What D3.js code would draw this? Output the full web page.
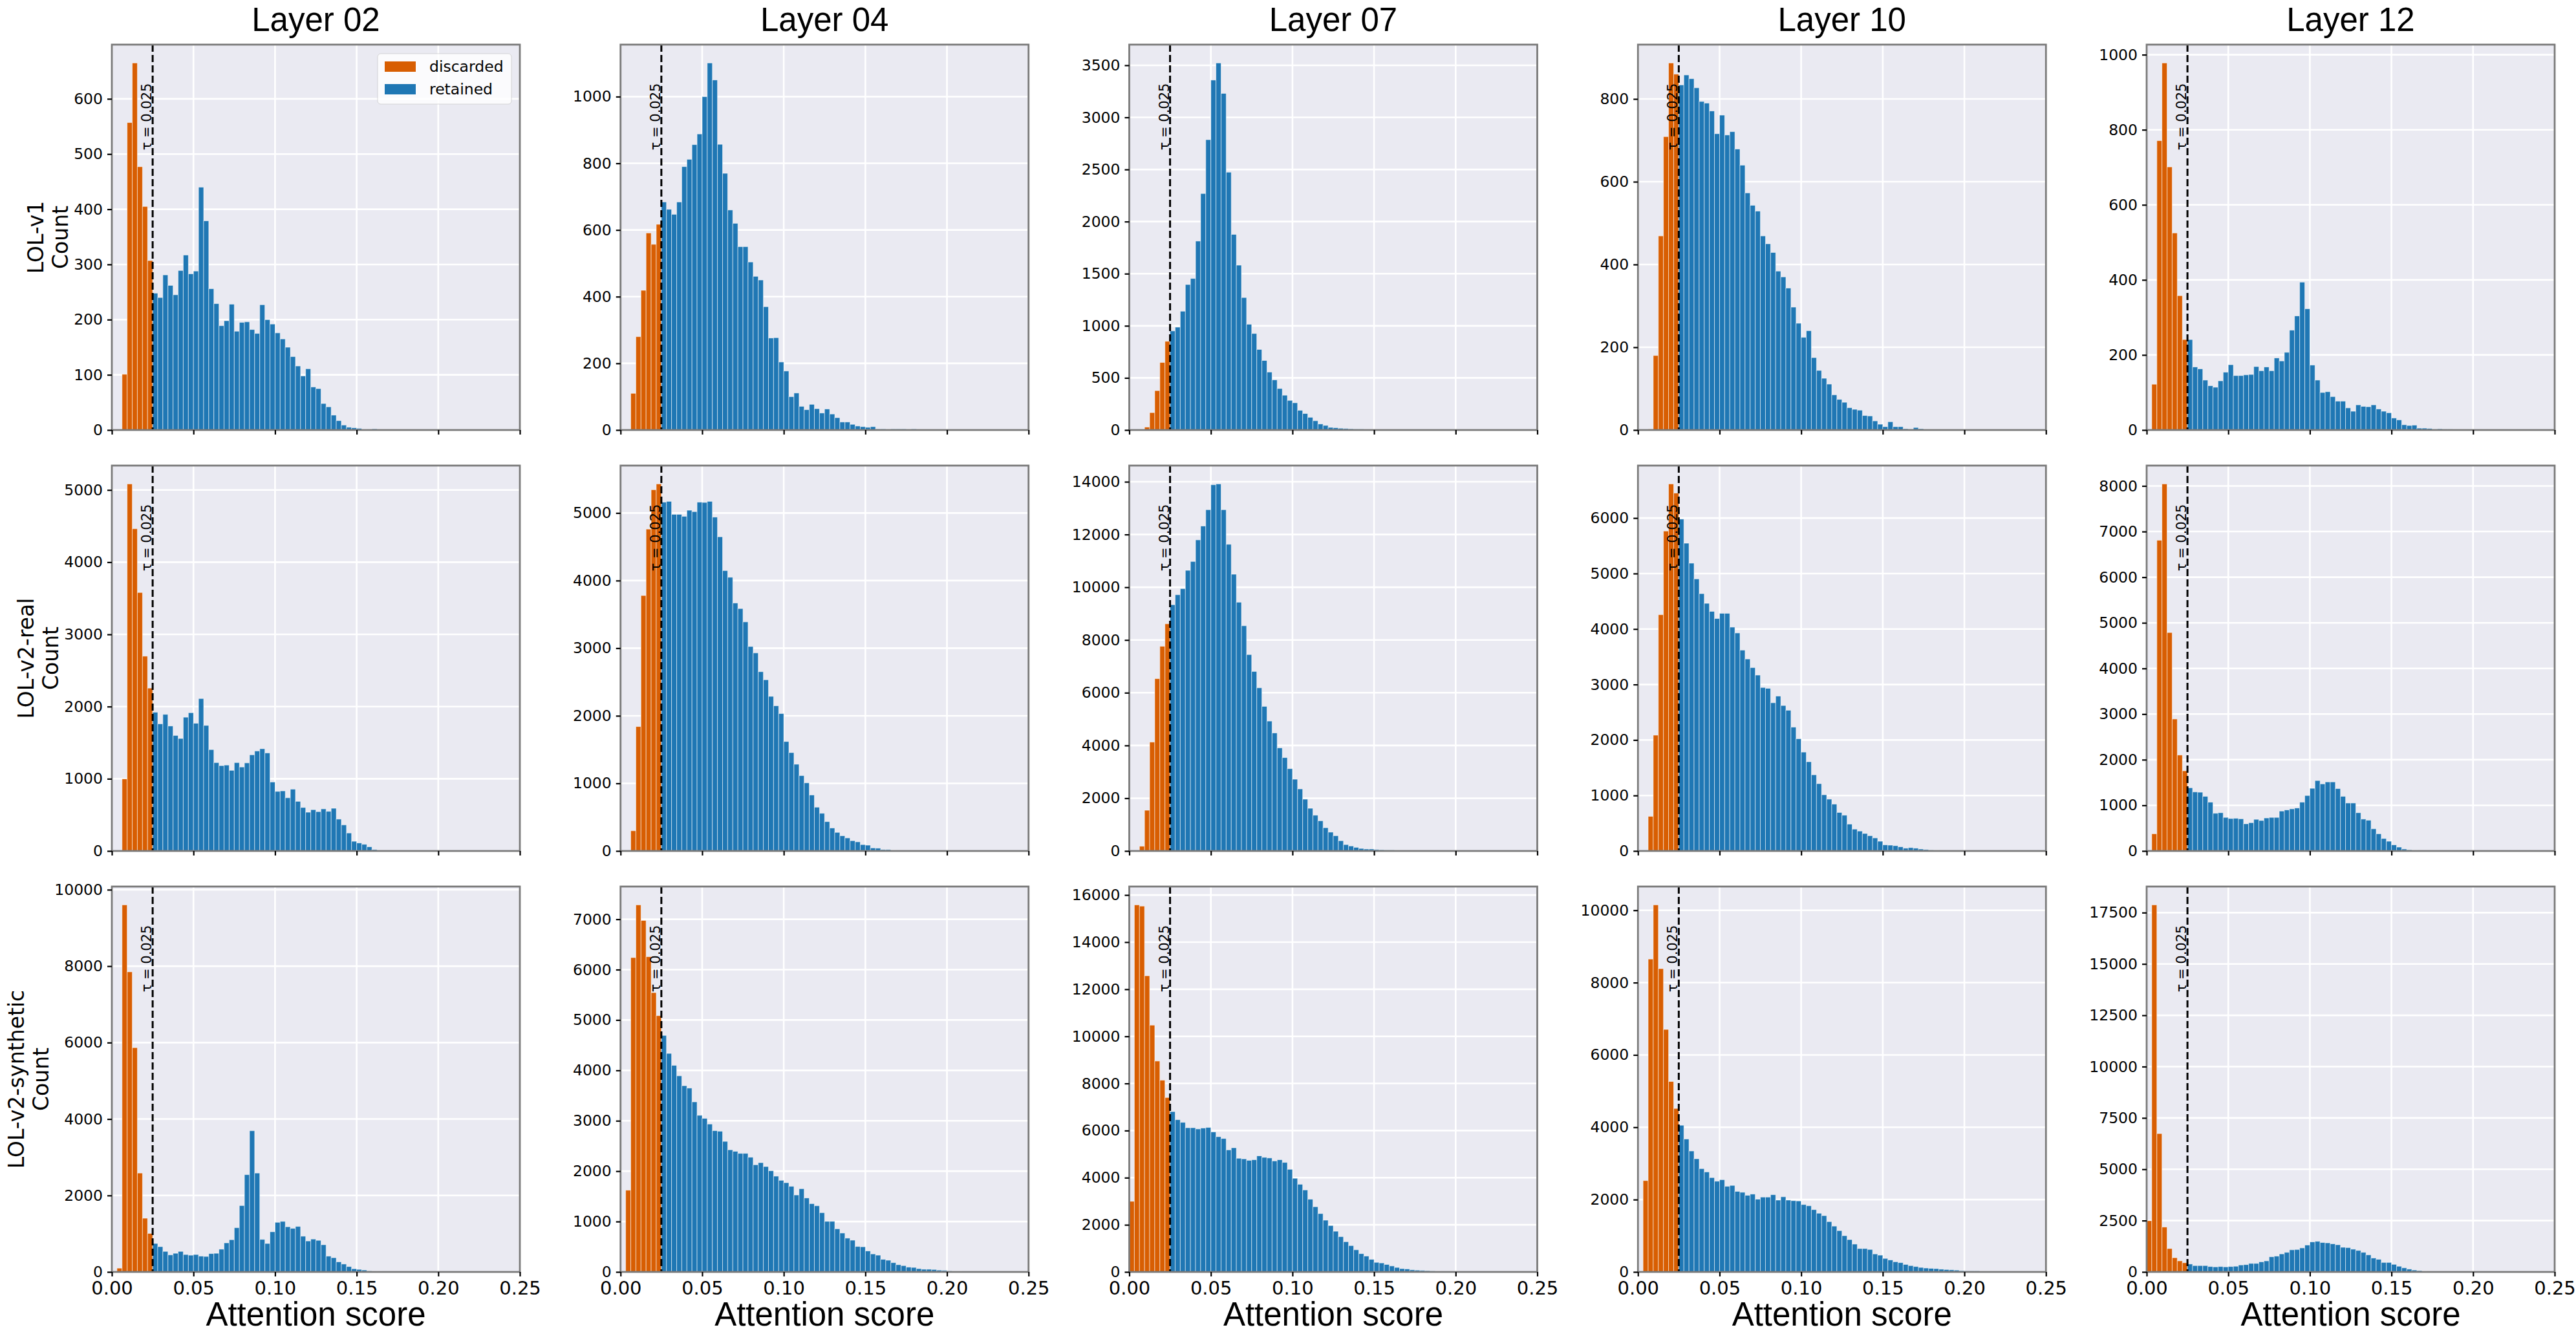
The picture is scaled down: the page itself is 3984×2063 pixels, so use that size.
<!DOCTYPE html>
<html>
<head>
<meta charset="utf-8">
<script src="https://cdnjs.cloudflare.com/ajax/libs/d3/7.8.5/d3.min.js"></script>
<style>
	body { margin: 0; background: #ffffff; }
	svg { display: block; }
</style>
</head>
<body>
<div id="chart"></div>
<script>
var datasets = ['LOL-v1', 'LOL-v2-real', 'LOL-v2-synthetic'];
var layers = ['Layer 02', 'Layer 04', 'Layer 07', 'Layer 10', 'Layer 12'];
var tau = 0.025;
var binWidth = 0.003125; // 80 bins over [0, 0.25]
var xTicks = [0, 0.05, 0.10, 0.15, 0.20, 0.25];
var yTickSteps = [
	[100, 200, 500, 200, 200],
	[1000, 1000, 2000, 1000, 1000],
	[2000, 1000, 2000, 2000, 2500]
];

// bin counts, first value is the bin starting at 0
var v1L02 = [0,0,101,557,665,477,405,307,248,240,281,262,245,289,317,283,288,440,379,256,229,189,198,228,179,195,196,182,175,227,200,192,176,165,150,133,116,98,111,78,75,48,42,27,17,9,5,4,3,1,0,2];
var v1L04 = [0,0,110,280,419,591,557,617,684,662,647,684,790,812,856,888,1000,1101,1050,857,770,660,620,550,550,504,461,450,370,276,277,204,177,100,111,71,61,77,64,51,63,48,37,24,24,17,12,10,8,10,3,3,1,3,3,3,1,3,1,2];
var v1L07 = [0,0,0,28,167,378,648,851,951,987,1140,1396,1454,1813,2269,2786,3358,3522,3230,2474,1877,1582,1271,1015,926,773,667,556,481,398,334,284,261,189,158,122,89,58,44,25,22,17,14,11,8,8,5,3,3];
var v1L10 = [0,0,2,180,469,709,887,860,834,858,849,827,794,790,771,716,761,713,721,679,640,573,543,529,469,450,429,384,370,343,297,258,224,240,175,144,125,111,85,74,67,54,50,48,35,34,22,14,8,20,8,8,3,2,6,3,1];
var v1L12 = [0,122,771,978,701,525,358,241,241,168,163,133,118,114,131,154,174,145,145,147,148,169,158,168,158,192,184,207,266,304,394,323,173,133,100,102,89,77,77,59,50,67,63,62,67,56,50,46,32,27,14,12,13,5,5,4,2,3,2,2];

var v2rL02 = [0,0,998,5084,4463,3580,2698,2256,1922,1761,1892,1731,1600,1558,1853,1915,1769,2111,1739,1404,1224,1182,1190,1117,1224,1163,1220,1332,1385,1416,1358,955,825,832,737,856,687,602,537,572,545,583,549,591,441,361,249,134,111,92,58,19,4];
var v2rL04 = [0,0,299,1840,3779,4762,5344,5430,5160,5172,4980,4980,4951,5041,5020,5160,5156,5172,4939,4648,4148,4049,3668,3586,3389,3025,2930,2652,2533,2287,2148,2033,1619,1455,1283,1115,1008,828,648,557,434,340,275,225,193,152,135,94,86,45,41,20,20,8,4];
var v2rL07 = [0,0,179,1544,4128,6534,7763,8613,9338,9716,9947,10641,10977,11796,12321,12941,13887,13918,12941,11628,10494,9433,8540,7447,6807,6187,5483,4926,4475,3908,3540,3120,2721,2353,1964,1618,1355,1145,882,714,578,389,242,189,137,95,74,74,53,42,32,32,21,11,11];
var v2rL10 = [0,0,624,2087,4258,5766,6615,6450,5981,5547,5187,4903,4638,4463,4318,4189,4283,4283,4034,3929,3620,3460,3305,3170,2946,2931,2671,2791,2621,2536,2232,2022,1782,1608,1373,1213,1013,934,844,694,644,484,394,359,315,275,235,175,110,105,95,75,50,60,50,35,25,15,10,5,5];
var v2rL12 = [0,377,6810,8044,4787,2892,2102,1756,1385,1294,1288,1197,1069,826,838,735,711,717,705,595,620,693,668,723,735,735,875,899,923,942,1069,1215,1373,1543,1470,1513,1513,1367,1197,1051,1051,838,699,674,486,377,273,213,134,85,43,24,12,6];

var v2sL02 = [0,99,9603,7851,5868,2587,1405,1008,744,661,537,446,488,537,455,438,455,413,405,479,488,595,760,843,1157,1736,2545,3694,2587,851,744,1050,1298,1322,1182,1140,1190,934,810,860,826,711,413,372,264,207,140,83,66,50,25,17,17,8];
var v2sL04 = [0,1622,6239,7285,6976,6257,5544,5086,4694,4337,4100,3892,3696,3649,3375,3108,3048,2935,2804,2793,2591,2424,2394,2353,2353,2276,2127,2169,2092,2008,1901,1818,1771,1699,1527,1652,1468,1355,1313,1176,1004,1004,856,772,671,630,505,499,416,357,333,250,232,184,143,125,95,89,65,53,53,48,36,30,18,12,12,6,6];
var v2sL07 = [2997,15581,15530,12571,10476,8952,8140,7403,6806,6463,6349,6121,6121,6070,6108,6133,5943,5740,5663,5181,5270,4825,4800,4737,4762,4927,4863,4838,4711,4762,4648,4356,3975,3721,3479,3086,2768,2476,2197,1968,1727,1498,1283,1117,940,775,673,533,406,381,317,254,190,140,127,89,76,63,51,38,25,13];
var v2sL10 = [0,2525,8651,10149,8386,6705,5265,4520,4056,3675,3344,3129,2856,2765,2608,2508,2550,2368,2392,2227,2202,2119,2152,2012,2070,2070,2136,1987,2078,1987,1970,1962,1863,1829,1722,1623,1556,1391,1267,1142,1002,894,770,646,646,621,497,464,373,331,281,257,207,174,149,124,108,99,91,75,66,58,50,33,25,25,25,17,17,8,8];
var v2sL12 = [2492,17877,6738,2185,1138,692,538,446,385,308,308,308,262,246,262,246,262,277,338,354,415,415,492,538,738,769,877,954,1077,1092,1169,1308,1462,1492,1431,1415,1369,1323,1200,1185,1108,1046,954,831,677,615,462,462,369,277,200,138,92,62,31,15];

var counts = [
	[v1L02, v1L04, v1L07, v1L10, v1L12],
	[v2rL02, v2rL04, v2rL07, v2rL10, v2rL12],
	[v2sL02, v2sL04, v2sL07, v2sL10, v2sL12]
];

var HistGrid = (function() {
	var HistGrid = function(container, options) {
		this.container = d3.select(container);
		this.options = Object.assign({}, HistGrid.defaultOptions, options);
		this.initSVG();
		this.initPanels();
	}

	HistGrid.defaultOptions = {
		width: 3984
	, height: 2063
	, left: 173
	, top: 69
	, panelWidth: 631
	, panelHeight: 596
	, colStep: 786.75
	, rowStep: 651
	, discarded: '#d85e02'
	, retained: '#1f77b4'
	, sans: '"DejaVu Sans", sans-serif'
	, head: '"Liberation Sans", Arial, sans-serif'
	}

	HistGrid.prototype.initSVG = function() {
		this.svg = this.container.append('svg')
			.attr('width', this.options.width)
			.attr('height', this.options.height)
			.attr('viewBox', '0 0 ' + this.options.width + ' ' + this.options.height);

		this.svg.append('rect')
			.attr('width', this.options.width)
			.attr('height', this.options.height)
			.attr('fill', '#ffffff');
	}

	HistGrid.prototype.initPanels = function() {
		for (var r = 0; r < datasets.length; r++) {
			for (var c = 0; c < layers.length; c++) {
				this.drawPanel(r, c);
			}
		}
	}

	HistGrid.prototype.drawPanel = function(r, c) {
		var o = this.options;
		var W = o.panelWidth, H = o.panelHeight;
		var px = o.left + c * o.colStep, py = o.top + r * o.rowStep;
		var data = counts[r][c];

		var bins = data.map(function(n, i) {
			return {x0: i * binWidth, x1: (i + 1) * binWidth, n: n};
		}).filter(function(d) { return d.n > 0; });

		var yMax = d3.max(data) * 1.05;
		var x = d3.scaleLinear().domain([0, 0.25]).range([0, W]);
		var y = d3.scaleLinear().domain([0, yMax]).range([H, 0]);
		var yTicks = d3.range(0, yMax, yTickSteps[r][c]);

		var g = this.svg.append('g')
			.attr('transform', 'translate(' + px + ',' + py + ')');

		// background + grid
		g.append('rect')
			.attr('width', W)
			.attr('height', H)
			.attr('fill', '#eaeaf2');

		g.selectAll('.hgrid').data(yTicks).enter().append('line')
			.attr('x1', 0).attr('x2', W)
			.attr('y1', y).attr('y2', y)
			.attr('stroke', '#ffffff')
			.attr('stroke-width', 2.6);

		g.selectAll('.vgrid').data(xTicks).enter().append('line')
			.attr('x1', x).attr('x2', x)
			.attr('y1', 0).attr('y2', H)
			.attr('stroke', '#ffffff')
			.attr('stroke-width', 2.6);

		// bars
		g.selectAll('.bar').data(bins).enter().append('rect')
			.attr('x', function(d) { return x(d.x0); })
			.attr('width', function(d) { return x(d.x1) - x(d.x0); })
			.attr('y', function(d) { return y(d.n); })
			.attr('height', function(d) { return H - y(d.n); })
			.attr('fill', function(d) { return d.x0 < tau - 1e-9 ? o.discarded : o.retained; })
			.attr('stroke', '#ffffff')
			.attr('stroke-opacity', 0.55)
			.attr('stroke-width', 1);

		// threshold
		g.append('line')
			.attr('x1', x(tau)).attr('x2', x(tau))
			.attr('y1', 0).attr('y2', H)
			.attr('stroke', '#000000')
			.attr('stroke-width', 3)
			.attr('stroke-dasharray', '11,5');

		g.append('text')
			.attr('transform', 'translate(' + (x(tau) - 2) + ',' + (H * 0.1) + ') rotate(-90)')
			.attr('text-anchor', 'end')
			.attr('font-family', o.sans)
			.attr('font-size', 21)
			.text('\u03c4 = 0.025');

		// spines
		g.append('rect')
			.attr('width', W)
			.attr('height', H)
			.attr('fill', 'none')
			.attr('stroke', '#7a7a7a')
			.attr('stroke-width', 2.8);

		// axes
		var yAxis = g.append('g')
			.call(d3.axisLeft(y).tickValues(yTicks).tickFormat(d3.format('d')).tickSize(7).tickPadding(7));
		yAxis.select('.domain').remove();
		yAxis.selectAll('line').attr('stroke', '#000000').attr('stroke-width', 2.2);
		yAxis.selectAll('text')
			.attr('font-family', o.sans)
			.attr('font-size', 23.5)
			.attr('fill', '#000000');

		var xAxis = g.append('g')
			.attr('transform', 'translate(0,' + H + ')')
			.call(d3.axisBottom(x).tickValues(xTicks)
				.tickFormat(r == datasets.length - 1 ? d3.format('.2f') : function() { return ''; })
				.tickSize(7).tickPadding(7));
		xAxis.select('.domain').remove();
		xAxis.selectAll('line').attr('stroke', '#000000').attr('stroke-width', 2.2);
		xAxis.selectAll('text')
			.attr('font-family', o.sans)
			.attr('font-size', 29)
			.attr('fill', '#000000');

		if (r == 0) {
			g.append('text')
				.attr('x', W / 2)
				.attr('y', 48 - py)
				.attr('text-anchor', 'middle')
				.attr('font-family', o.head)
				.attr('font-size', 51)
				.text(layers[c]);
		}

		if (r == datasets.length - 1) {
			g.append('text')
				.attr('x', W / 2)
				.attr('y', o.height - 13 - py)
				.attr('text-anchor', 'middle')
				.attr('font-family', o.head)
				.attr('font-size', 51)
				.text('Attention score');
		}

		if (c == 0) {
			// ylabel sits just left of the widest tick label
			var bb = yAxis.node().getBBox();
			var base = bb.x - 9;
			[datasets[r], 'Count'].forEach(function(line, i) {
				g.append('text')
					.attr('transform', 'translate(' + (base - (1 - i) * 38) + ',' + (H / 2) + ') rotate(-90)')
					.attr('text-anchor', 'middle')
					.attr('font-family', o.sans)
					.attr('font-size', 33)
					.text(line);
			});
		}

		if (r == 0 && c == 0) this.drawLegend(g, W);
	}

	HistGrid.prototype.drawLegend = function(g, W) {
		var o = this.options;
		var lg = g.append('g')
			.attr('transform', 'translate(' + (W - 13 - 207) + ',14)');

		lg.append('rect')
			.attr('width', 207)
			.attr('height', 78)
			.attr('rx', 5)
			.attr('fill', '#ffffff')
			.attr('fill-opacity', 0.8)
			.attr('stroke', '#cccccc')
			.attr('stroke-opacity', 0.8)
			.attr('stroke-width', 1);

		var items = [{label: 'discarded', color: o.discarded}, {label: 'retained', color: o.retained}];
		items.forEach(function(d, i) {
			lg.append('rect')
				.attr('x', 11)
				.attr('y', 20 + i * 35 - 8)
				.attr('width', 48)
				.attr('height', 16)
				.attr('fill', d.color);
			lg.append('text')
				.attr('x', 80)
				.attr('y', 20 + i * 35)
				.attr('dy', '0.35em')
				.attr('font-family', o.sans)
				.attr('font-size', 23.5)
				.text(d.label);
		});
	}

	return HistGrid;
})();

new HistGrid('#chart');
</script>
</body>
</html>
